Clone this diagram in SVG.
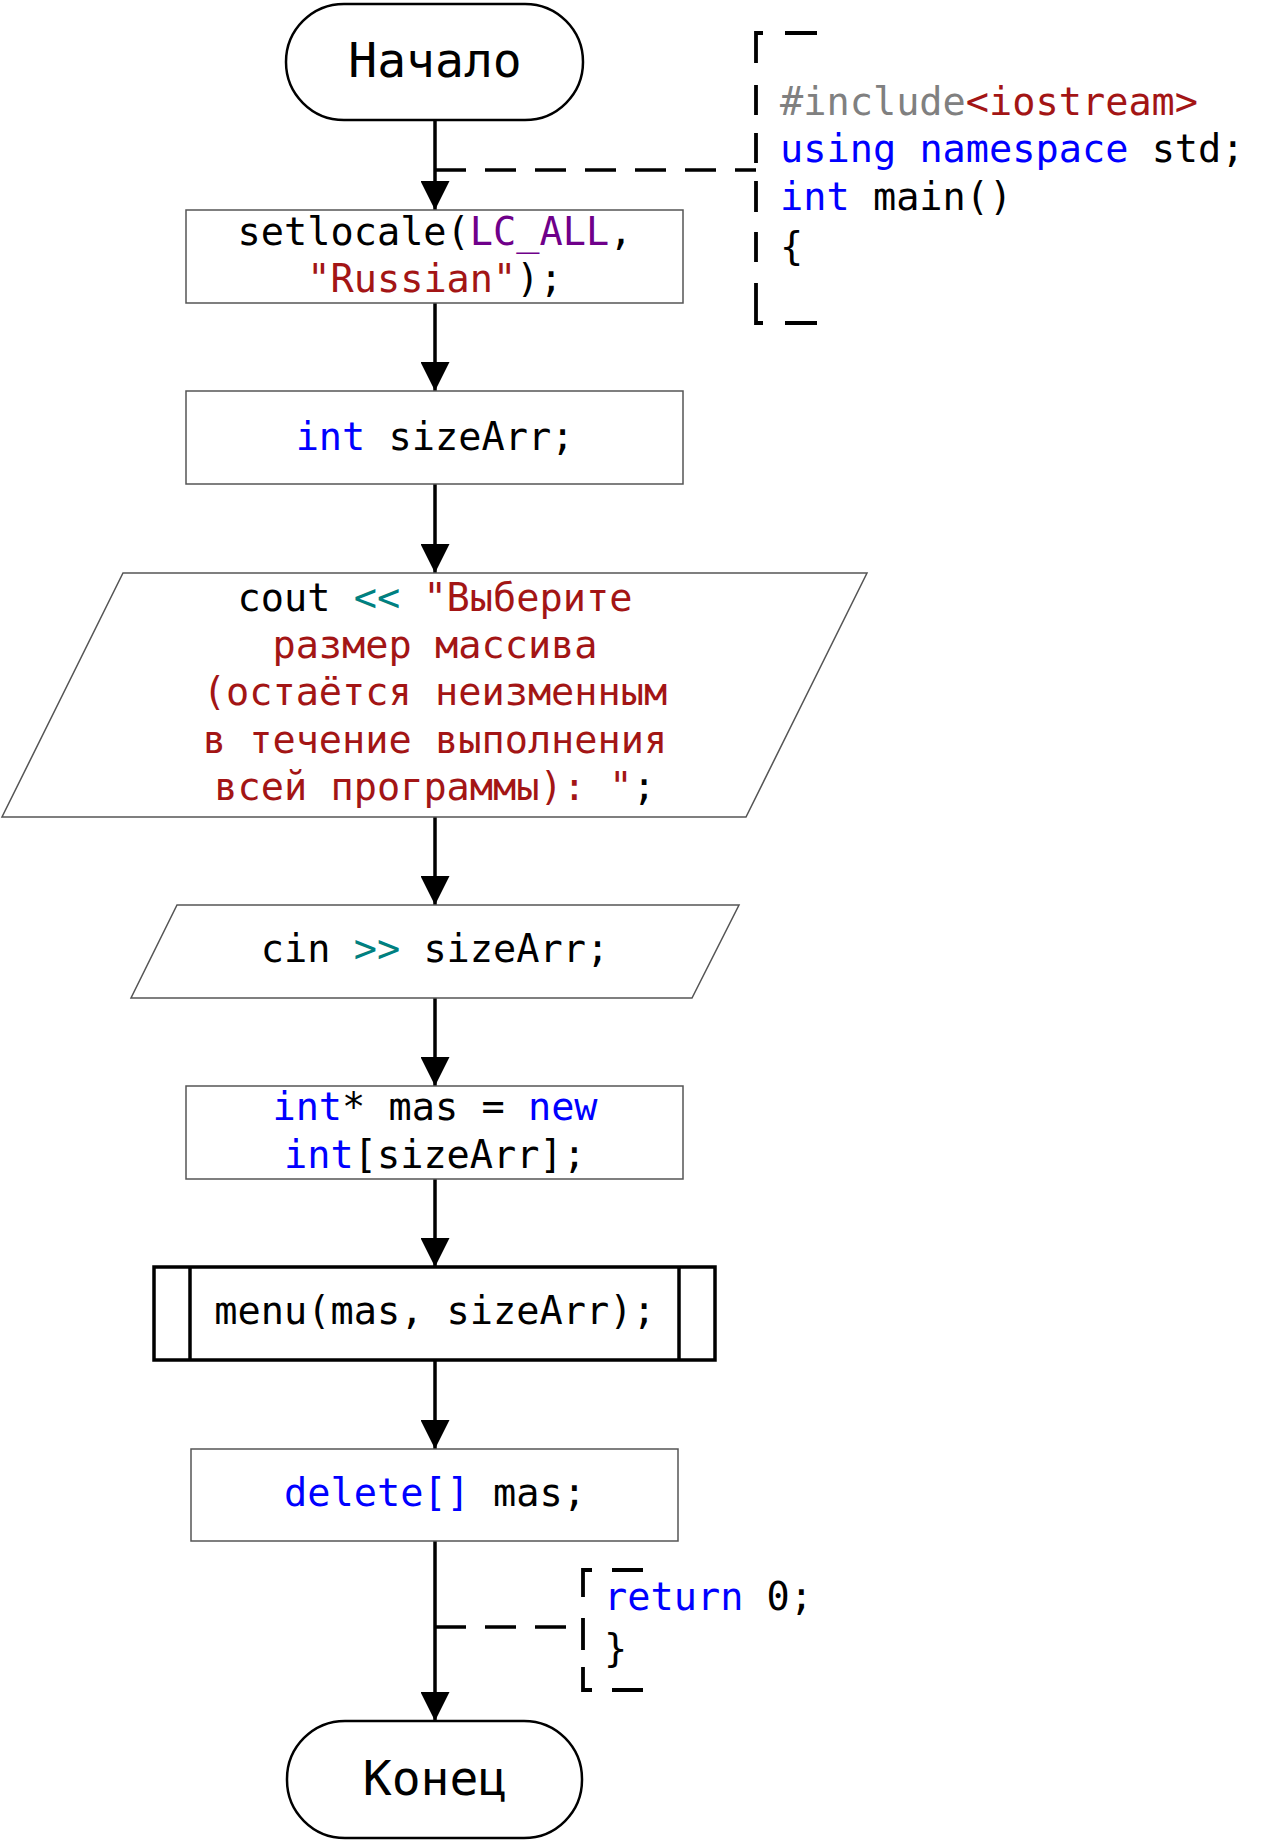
<svg xmlns="http://www.w3.org/2000/svg" width="1263" height="1843" viewBox="0 0 1263 1843">
<style>
.term{fill:#fff;stroke:#000;stroke-width:2.5}
.box{fill:#fff;stroke:#555;stroke-width:1.5}
.sub{fill:#fff;stroke:#000;stroke-width:3.5}
.t{font-family:"DejaVu Sans Mono","Liberation Mono",monospace;font-size:38.6px;fill:#000}
.c{text-anchor:middle}
.big{font-size:48px}
.kw{fill:#0000ff}
.str{fill:#a31515}
.mac{fill:#6f008a}
.op{fill:#008080}
.pp{fill:#808080}
.edge{fill:none;stroke:#000;stroke-width:3.5}
.dash{fill:none;stroke:#000;stroke-width:3.5;stroke-dasharray:31 19}
.br{fill:none;stroke:#000;stroke-width:3.8}
</style>
<defs>
<marker id="arr" markerUnits="userSpaceOnUse" markerWidth="29" markerHeight="29" refX="29" refY="14.5" orient="auto">
<path d="M0,0 L29,14.5 L0,29 z" fill="#000"/>
</marker>
</defs>
<g id="connectors">
<path class="edge" d="M435 120 V210" marker-end="url(#arr)"/>
<path class="edge" d="M435 303 V391" marker-end="url(#arr)"/>
<path class="edge" d="M435 484 V573" marker-end="url(#arr)"/>
<path class="edge" d="M435 817 V905" marker-end="url(#arr)"/>
<path class="edge" d="M435 998 V1086" marker-end="url(#arr)"/>
<path class="edge" d="M435 1179 V1267" marker-end="url(#arr)"/>
<path class="edge" d="M435 1360 V1449" marker-end="url(#arr)"/>
<path class="edge" d="M435 1541 V1721" marker-end="url(#arr)"/>
<path class="dash" d="M435 170 H756"/>
<path class="dash" d="M435 1627 H583"/>
</g>
<g id="start">
<rect class="term" x="286" y="4" width="297" height="116" rx="58" ry="58"/>
<text class="t c big" x="435" y="77">Начало</text>
</g>
<g id="comment-top">
<path class="br" d="M785 33 H817 M763 33 H756 V63 M756 85 V115 M756 133 V163 M756 181 V212 M756 232 V262 M756 283 V323 H763 M785 323 H817"/>
<text class="t" x="780" y="115"><tspan class="pp">#include</tspan><tspan class="str">&lt;iostream&gt;</tspan></text>
<text class="t" x="780" y="162"><tspan class="kw">using</tspan> <tspan class="kw">namespace</tspan> std;</text>
<text class="t" x="780" y="210"><tspan class="kw">int</tspan> main()</text>
<text class="t" x="780" y="260">{</text>
</g>
<g id="setlocale">
<rect class="box" x="186" y="210" width="497" height="93"/>
<text class="t c" x="435" y="245">setlocale(<tspan class="mac">LC_ALL</tspan>,</text>
<text class="t c" x="435" y="292"><tspan class="str">"Russian"</tspan>);</text>
</g>
<g id="decl">
<rect class="box" x="186" y="391" width="497" height="93"/>
<text class="t c" x="435" y="450"><tspan class="kw">int</tspan> sizeArr;</text>
</g>
<g id="output">
<polygon class="box" points="123,573 867,573 746,817 2,817"/>
<text class="t c" x="435" y="611">cout <tspan class="op">&lt;&lt;</tspan> <tspan class="str">"Выберите</tspan></text>
<text class="t c str" x="435" y="658">размер массива</text>
<text class="t c str" x="435" y="705">(остаётся неизменным</text>
<text class="t c str" x="435" y="753">в течение выполнения</text>
<text class="t c" x="435" y="800"><tspan class="str">всей программы): "</tspan>;</text>
</g>
<g id="input">
<polygon class="box" points="177,905 739,905 692,998 131,998"/>
<text class="t c" x="435" y="962">cin <tspan class="op">&gt;&gt;</tspan> sizeArr;</text>
</g>
<g id="alloc">
<rect class="box" x="186" y="1086" width="497" height="93"/>
<text class="t c" x="435" y="1120"><tspan class="kw">int</tspan>* mas = <tspan class="kw">new</tspan></text>
<text class="t c" x="435" y="1168"><tspan class="kw">int</tspan>[sizeArr];</text>
</g>
<g id="menu">
<rect class="sub" x="154" y="1267" width="561" height="93"/>
<line class="sub" x1="190" y1="1267" x2="190" y2="1360"/>
<line class="sub" x1="679" y1="1267" x2="679" y2="1360"/>
<text class="t c" x="435" y="1324">menu(mas, sizeArr);</text>
</g>
<g id="free">
<rect class="box" x="191" y="1449" width="487" height="92"/>
<text class="t c" x="435" y="1506"><tspan class="kw">delete[]</tspan> mas;</text>
</g>
<g id="comment-bottom">
<path class="br" d="M612 1570 H643 M592 1570 H583 V1597 M583 1618 V1650 M583 1667 V1690 H592 M612 1690 H643"/>
<text class="t" x="604" y="1610"><tspan class="kw">return</tspan> 0;</text>
<text class="t" x="604" y="1662">}</text>
</g>
<g id="end">
<rect class="term" x="287" y="1721" width="295" height="117" rx="58" ry="58"/>
<text class="t c big" x="435" y="1795">Конец</text>
</g>
</svg>
